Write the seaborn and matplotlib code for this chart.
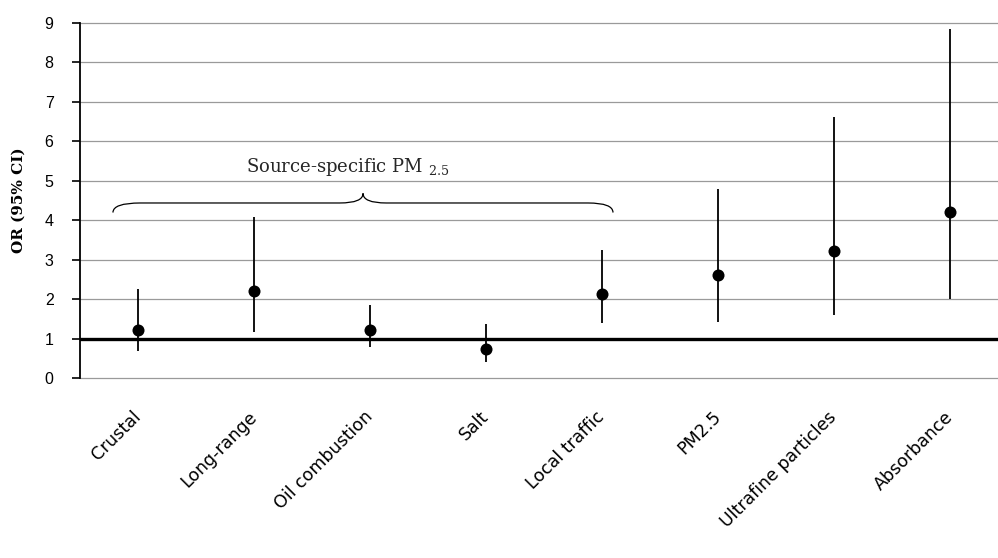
import matplotlib
matplotlib.use("Agg")
import matplotlib.pyplot as plt
import seaborn as sns
from matplotlib.path import Path
from matplotlib.patches import PathPatch

# odds ratios with 95% confidence intervals
categories = ["Crustal", "Long-range", "Oil combustion", "Salt",
              "Local traffic", "PM2.5", "Ultrafine particles", "Absorbance"]
odds_ratio = [1.22, 2.20, 1.22, 0.73, 2.12, 2.60, 3.22, 4.20]
ci_low = [0.69, 1.17, 0.78, 0.41, 1.39, 1.42, 1.60, 2.00]
ci_high = [2.26, 4.09, 1.86, 1.37, 3.25, 4.80, 6.62, 8.86]
y_ticks = list(range(0, 10))

sns.set_style("white")
plt.rcParams["font.family"] = ["Liberation Sans", "DejaVu Sans"]
plt.rcParams["mathtext.fontset"] = "dejavuserif"

fig = plt.figure(figsize=(9.98, 5.58), dpi=100)
ax = fig.add_axes([80 / 998, 180 / 558, 918 / 998, 355 / 558])

# points and CI whiskers
sns.scatterplot(x=categories, y=odds_ratio, ax=ax, color="black", s=75,
                edgecolor="black", linewidth=0, zorder=4)
ax.vlines(categories, ci_low, ci_high, color="black", lw=1.3, zorder=3)

# reference line at OR = 1
ax.axhline(1, color="black", lw=2.4, zorder=3)

ax.set_ylim(0, 9)
ax.set_xlim(-0.5, 7.414)
ax.set_yticks(y_ticks)
ax.yaxis.grid(True, color="#9a9a9a", lw=0.9)
for gl in ax.get_ygridlines():
    gl.set_clip_on(False)
ax.set_axisbelow(True)

for s in ["top", "right", "bottom"]:
    ax.spines[s].set_visible(False)
ax.spines["left"].set_color("black")
ax.spines["left"].set_linewidth(1.3)

ax.tick_params(axis="y", direction="out", length=6, width=1.2, color="black",
               pad=13, labelsize=11.5, left=True, labelcolor="black")
ax.tick_params(axis="x", length=0, pad=26, labelcolor="black")
for lab in ax.get_xticklabels():
    lab.set_rotation(45)
    lab.set_ha("right")
    lab.set_va("center")
    lab.set_rotation_mode("anchor")
    lab.set_fontsize(12.5)
    lab.set_family("DejaVu Sans")

ax.set_xlabel("")
ax.set_ylabel("OR (95% CI)", family="DejaVu Serif", fontweight="bold",
              fontsize=11, labelpad=14, color="black")

# curly brace over the source-specific PM2.5 group
verts = [(-0.216, 4.195), (-0.216, 4.437), (0.02, 4.437),
         (1.74, 4.437),
         (1.94, 4.437), (1.94, 4.68),
         (1.94, 4.437), (2.14, 4.437),
         (3.88, 4.437),
         (4.095, 4.437), (4.095, 4.195)]
codes = [Path.MOVETO, Path.CURVE3, Path.CURVE3,
         Path.LINETO,
         Path.CURVE3, Path.CURVE3,
         Path.CURVE3, Path.CURVE3,
         Path.LINETO,
         Path.CURVE3, Path.CURVE3]
ax.add_patch(PathPatch(Path(verts, codes), fill=False, lw=0.9,
                       edgecolor="black", zorder=3))
ax.text(1.81, 5.22, r"Source-specific PM $_{2.5}$", ha="center",
        va="baseline", family="DejaVu Serif", fontsize=13)

fig.savefig("out.png", dpi=100)
